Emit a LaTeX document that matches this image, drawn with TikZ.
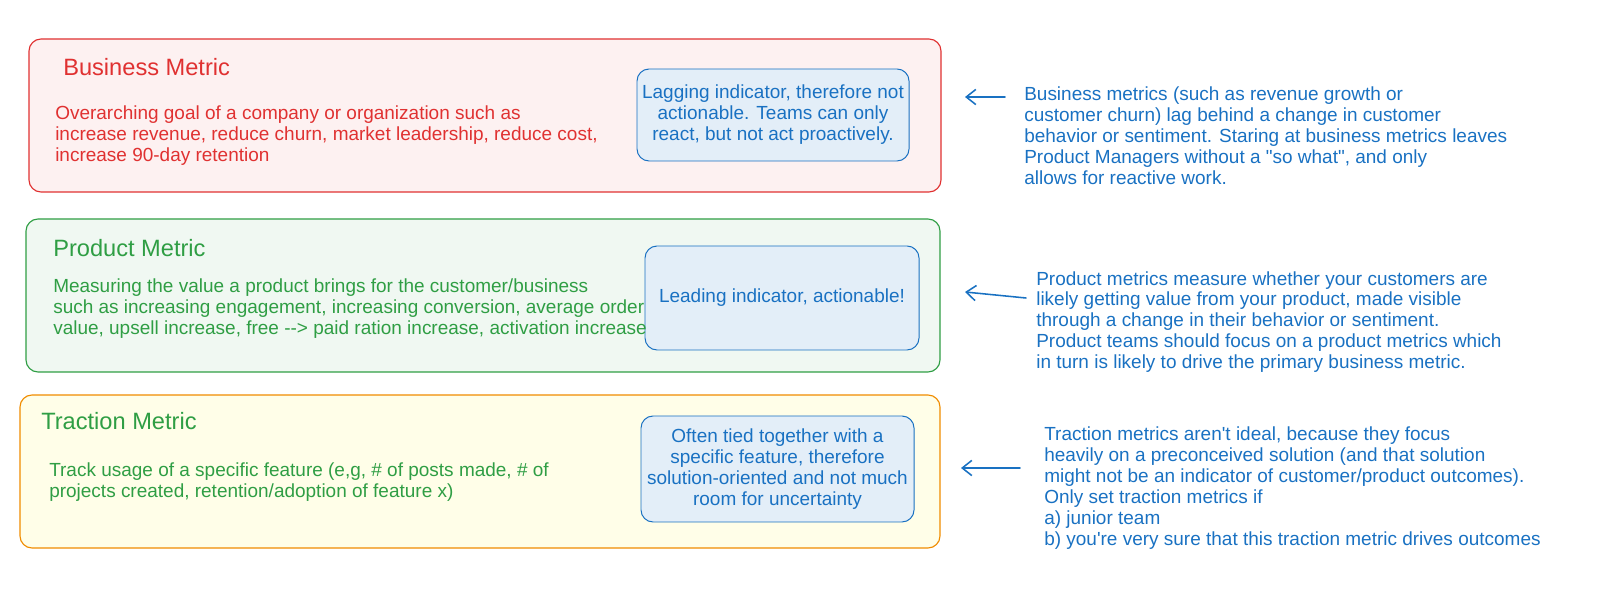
\documentclass[tikz,border=0pt]{standalone}
\usepackage{fontspec}
\setmainfont{Liberation Sans}[Ligatures=TeXOff]
\usepackage{xcolor}
\usetikzlibrary{arrows.meta,positioning,fit}
\definecolor{exred}{HTML}{E03131}
\definecolor{exgreen}{HTML}{2F9E44}
\definecolor{exorange}{HTML}{F08C00}
\definecolor{exblue}{HTML}{1971C2}
\newcommand{\bodyfont}{\fontsize{13.5}{14.9}\selectfont}
\newcommand{\titlefont}{\fontsize{16.8}{19}\selectfont}

\begin{document}
\begin{tikzpicture}[
    x=0.025cm, y=-0.025cm,
    >={Straight Barb[length=2.4mm,width=3.8mm]},
    tier/.style={draw=#1, line width=0.8pt, rounded corners=0.3cm, inner sep=0pt},
    indicator/.style={draw=exblue, fill=exblue!12, line width=0.7pt, rounded corners=0.3cm, inner sep=0pt, align=center, font=\bodyfont, text=exblue},
    heading/.style={anchor=west, inner sep=0pt, font=\titlefont, text=#1},
    desc/.style={anchor=west, inner sep=0pt, align=left, font=\bodyfont, text=#1},
    note/.style={anchor=west, inner sep=0pt, align=left, font=\bodyfont, text=exblue},
    pointer/.style={->, line width=1.1pt, exblue, line cap=round}
]
\useasboundingbox (0,0) rectangle (1600,615);

% business tier
\node[tier=exred, fill=exred!7, fit={(29,39) (941,192)}] (business) {};
\node[indicator, fit={(637,69) (909,161)}] (lagbox) {};
\node[indicator, draw=none, fill=none] (lag) at (lagbox.center) {Lagging indicator, therefore not\\actionable. Teams can only\\react, but not act proactively.};
\node[heading=exred] (btitle) at (63,67) {Business Metric};
\node[desc=exred] (bdesc) at (55,136) {Overarching goal of a company or organization such as\\increase revenue, reduce churn, market leadership, reduce cost,\\increase 90-day retention};

% product tier
\node[tier=exgreen, fill=exgreen!7, fit={(26,219) (940,372)}] (product) {};
\node[indicator, fit={(645,246) (919,350)}] (leadbox) {};
\node[indicator, draw=none, fill=none] (lead) at (leadbox.center) {Leading indicator, actionable!};
\node[heading=exgreen] (ptitle) at (53,248) {Product Metric};
\node[desc=exgreen] (pdesc) at (53,309) {Measuring the value a product brings for the customer/business\\such as increasing engagement, increasing conversion, average order\\value, upsell increase, free --> paid ration increase, activation increase};

% traction tier
\node[tier=exorange, fill=yellow!9, fit={(20,395) (940,548)}] (traction) {};
\node[indicator, fit={(641,416) (914,522)}] (tiedbox) {};
\node[indicator, draw=none, fill=none] (tied) at (tiedbox.center) {Often tied together with a\\specific feature, therefore\\solution-oriented and not much\\room for uncertainty};
\node[heading=exgreen] (ttitle) at (41,421) {Traction Metric};
\node[desc=exgreen] (tdesc) at (49,482) {Track usage of a specific feature (e,g, \# of posts made, \# of\\projects created, retention/adoption of feature x)};

% notes on the right
\node[note] (bnote) at (1024,136) {Business metrics (such as revenue growth or\\customer churn) lag behind a change in customer\\behavior or sentiment. Staring at business metrics leaves\\Product Managers without a "so what", and only\\allows for reactive work.};
\node[note] (pnote) at (1036,322) {Product metrics measure whether your customers are\\likely getting value from your product, made visible\\through a change in their behavior or sentiment.\\Product teams should focus on a product metrics which\\in turn is likely to drive the primary business metric.};
\node[note] (tnote) at (1044,488) {Traction metrics aren't ideal, because they focus\\heavily on a preconceived solution (and that solution\\might not be an indicator of customer/product outcomes).\\Only set traction metrics if\\a) junior team\\b) you're very sure that this traction metric drives outcomes};

\coordinate (btail) at (1005,97);
\coordinate (bhead) at (965,97);
\coordinate (ptail) at (1026,298);
\coordinate (phead) at (965,292);
\coordinate (ttail) at (1020,468);
\coordinate (thead) at (961,468);
\draw[pointer] (btail) -- (bhead);
\draw[pointer] (ptail) -- (phead);
\draw[pointer] (ttail) -- (thead);
\end{tikzpicture}
\end{document}
